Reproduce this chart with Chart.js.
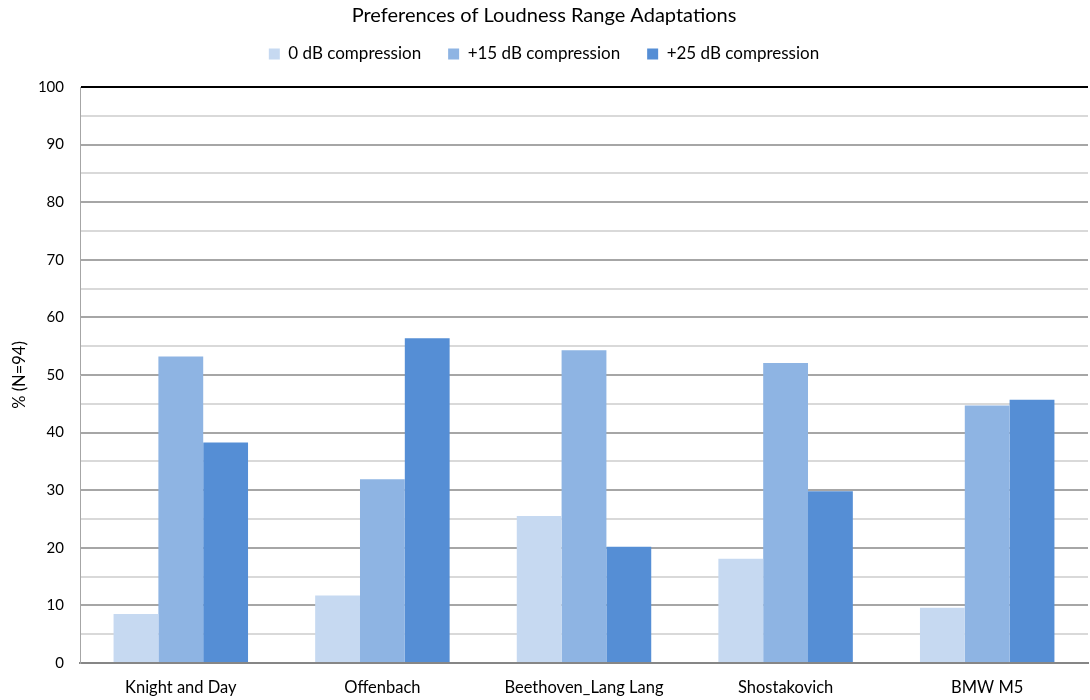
<!DOCTYPE html>
<html>
<head>
<meta charset="utf-8">
<title>Preferences of Loudness Range Adaptations</title>
<script src="https://cdn.jsdelivr.net/npm/chart.js@4/dist/chart.umd.min.js"></script>
<style>
  html, body { margin: 0; padding: 0; background: #ffffff; }
  #wrap { width: 1090px; height: 700px; }
</style>
</head>
<body>
<div id="wrap"><canvas id="chart" width="1090" height="700"></canvas></div>
<script>
// Stimuli and share of listeners (%) preferring each loudness range adaptation
const categories = ['Knight and Day', 'Offenbach', 'Beethoven_Lang Lang', 'Shostakovich', 'BMW M5'];
const seriesNames = ['0 dB compression', '+15 dB compression', '+25 dB compression'];
const comp0 = [8.5, 11.7, 25.5, 18.1, 9.6];
const comp15 = [53.2, 31.9, 54.3, 52.1, 44.7];
const comp25 = [38.3, 56.4, 20.2, 29.8, 45.7];
const seriesColors = ['#c6d9f1', '#8eb4e3', '#558ed5'];

const FONT = 'Lato, "Open Sans", "DejaVu Sans", sans-serif';

const ds = [comp0, comp15, comp25].map((values, i) => ({
  label: seriesNames[i],
  data: values,
  backgroundColor: seriesColors[i],
  borderWidth: 0,
  categoryPercentage: 0.667,
  barPercentage: 1.0
}));

new Chart(document.getElementById('chart'), {
  type: 'bar',
  data: { labels: categories, datasets: ds },
  options: {
    responsive: false,
    animation: false,
    layout: { padding: { left: 0, right: 2, top: 0, bottom: 0 } },
    plugins: {
      title: {
        display: true,
        text: 'Preferences of Loudness Range Adaptations',
        color: '#000000',
        font: { family: FONT, size: 20, weight: 'normal' },
        padding: { top: 4, bottom: -9.5 }
      },
      // empty box between the legend and the plot, used as a gap
      subtitle: {
        display: true,
        text: '',
        weight: 500,
        font: { family: FONT, size: 12 },
        padding: { top: 0, bottom: 0.1 }
      },
      legend: {
        display: true,
        position: 'top',
        labels: {
          color: '#000000',
          font: { family: FONT, size: 17 },
          boxWidth: 11,
          boxHeight: 11,
          padding: 27
        }
      },
      tooltip: { enabled: false }
    },
    scales: {
      x: {
        grid: { display: false, drawTicks: false },
        border: { display: true, color: '#868686', width: 2 },
        ticks: {
          color: '#000000',
          font: { family: FONT, size: 16.5 },
          padding: 15,
          maxRotation: 0
        },
        afterFit: (scale) => { scale.height = 37; }
      },
      y: {
        min: 0,
        max: 100,
        border: { display: true, color: '#a6a6a6', width: 1 },
        grid: {
          drawTicks: false,
          color: (ctx) => {
            const v = ctx.tick ? ctx.tick.value : 0;
            if (v === 100) return '#000000';
            if (v === 0) return '#868686';
            return v % 10 === 0 ? '#a6a6a6' : '#d9d9d9';
          },
          lineWidth: 2
        },
        ticks: {
          stepSize: 5,
          autoSkip: false,
          color: '#000000',
          font: { family: FONT, size: 15 },
          padding: 16,
          callback: (value) => (value % 10 === 0 ? String(value) : '')
        },
        title: {
          display: true,
          text: '% (N=94)',
          color: '#000000',
          font: { family: FONT, size: 16.5 },
          padding: { top: 10, bottom: 0 }
        },
        afterFit: (scale) => { scale.width = 80; }
      }
    }
  }
});
</script>
</body>
</html>
